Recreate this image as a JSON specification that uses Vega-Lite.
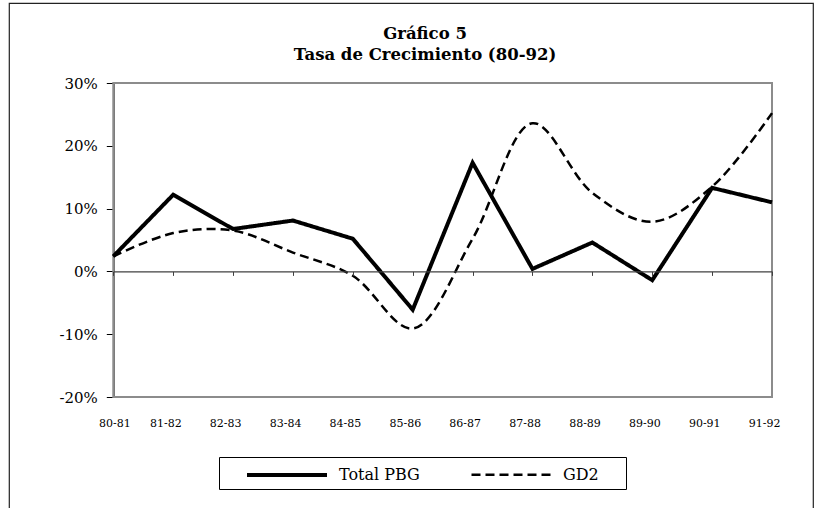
{
  "$schema": "https://vega.github.io/schema/vega-lite/v6.json",
  "width": 804,
  "height": 512,
  "autosize": "none",
  "padding": {"left": 9, "top": 3, "right": 4, "bottom": 0},
  "background": "white",
  "config": {
    "font": "DejaVu Serif",
    "view": {"stroke": "#222222", "strokeWidth": 1.2}
  },
  "title": {
    "text": ["Gráfico 5", "Tasa de Crecimiento (80-92)"],
    "font": "DejaVu Serif",
    "fontSize": 16.5,
    "fontWeight": "bold",
    "lineHeight": 21,
    "color": "black",
    "anchor": "middle",
    "baseline": "top",
    "offset": 0,
    "dx": 14,
    "dy": 60
  },
  "data": {
    "values": [
      {"period": "80-81", "series": "Total PBG", "value": 0.024},
      {"period": "81-82", "series": "Total PBG", "value": 0.122},
      {"period": "82-83", "series": "Total PBG", "value": 0.0675},
      {"period": "83-84", "series": "Total PBG", "value": 0.081},
      {"period": "84-85", "series": "Total PBG", "value": 0.052},
      {"period": "85-86", "series": "Total PBG", "value": -0.061},
      {"period": "86-87", "series": "Total PBG", "value": 0.173},
      {"period": "87-88", "series": "Total PBG", "value": 0.004},
      {"period": "88-89", "series": "Total PBG", "value": 0.046},
      {"period": "89-90", "series": "Total PBG", "value": -0.014},
      {"period": "90-91", "series": "Total PBG", "value": 0.133},
      {"period": "91-92", "series": "Total PBG", "value": 0.110},
      {"period": "80-81", "series": "GD2", "value": 0.024},
      {"period": "81-82", "series": "GD2", "value": 0.061},
      {"period": "82-83", "series": "GD2", "value": 0.065},
      {"period": "83-84", "series": "GD2", "value": 0.030},
      {"period": "84-85", "series": "GD2", "value": -0.007},
      {"period": "85-86", "series": "GD2", "value": -0.091},
      {"period": "86-87", "series": "GD2", "value": 0.052},
      {"period": "87-88", "series": "GD2", "value": 0.236},
      {"period": "88-89", "series": "GD2", "value": 0.125},
      {"period": "89-90", "series": "GD2", "value": 0.079},
      {"period": "90-91", "series": "GD2", "value": 0.135},
      {"period": "91-92", "series": "GD2", "value": 0.252}
    ]
  },
  "layer": [
    {
      "data": {"values": [{}]},
      "mark": {"type": "rect", "fill": null, "stroke": "#8c8c8c", "strokeWidth": 2},
      "encoding": {
        "x": {"datum": "80-81", "type": "ordinal"},
        "x2": {"datum": "91-92"},
        "y": {"datum": -0.2, "type": "quantitative"},
        "y2": {"datum": 0.3}
      }
    },
    {
      "transform": [{"filter": "datum.series === 'Total PBG'"}],
      "mark": {"type": "line", "color": "black", "interpolate": "linear", "strokeJoin": "miter", "clip": false},
      "encoding": {
        "x": {
          "field": "period",
          "type": "ordinal",
          "scale": {
            "type": "point",
            "domain": ["80-81","81-82","82-83","83-84","84-85","85-86","86-87","87-88","88-89","89-90","90-91","91-92"],
            "range": [104.3, 763],
            "padding": 0
          },
          "axis": {
            "title": null,
            "offset": -243.6,
            "domainColor": "#404040",
            "domainWidth": 1.2,
            "tickColor": "#404040",
            "tickSize": 4,
            "tickWidth": 1,
            "labelPadding": 148,
            "labelFontSize": 11,
            "labelColor": "black",
            "labelAngle": 0,
            "labelOffset": {"condition": {"test": "datum.value === '80-81'", "value": 17}, "value": 8}
          }
        },
        "y": {
          "field": "value",
          "type": "quantitative",
          "scale": {"domain": [-0.2, 0.3], "range": [394, 80], "nice": false, "zero": false},
          "axis": {
            "title": null,
            "offset": -104.3,
            "values": [-0.2, -0.1, 0, 0.1, 0.2, 0.3],
            "format": ".0%",
            "labelExpr": "replace(datum.label, '−', '-')",
            "grid": false,
            "domainColor": "black",
            "domainWidth": 1.5,
            "tickColor": "black",
            "tickSize": 7,
            "labelPadding": 9,
            "labelFontSize": 15,
            "labelColor": "black"
          }
        },
        "strokeDash": {
          "field": "series",
          "type": "nominal",
          "scale": {"domain": ["Total PBG", "GD2"], "range": [[1, 0], [9, 5]]},
          "legend": {
            "title": "\u00a0",
            "titleOrient": "right",
            "titlePadding": 21,
            "titleFontSize": 16,
            "orient": "none",
            "legendX": 210,
            "legendY": 454,
            "direction": "horizontal",
            "strokeColor": "black",
            "fillColor": "white",
            "padding": 6,
            "symbolType": "M-4,0H4",
            "symbolSize": 400,
            "symbolOffset": 50,
            "symbolStrokeColor": "black",
            "labelFontSize": 16,
            "labelColor": "black",
            "labelOffset": 40,
            "columnPadding": 30
          }
        },
        "strokeWidth": {
          "field": "series",
          "type": "nominal",
          "scale": {"domain": ["Total PBG", "GD2"], "range": [4, 2.5]},
          "legend": null
        }
      }
    },
    {
      "transform": [{"filter": "datum.series === 'GD2'"}],
      "mark": {"type": "line", "color": "black", "interpolate": "catmull-rom", "clip": false},
      "encoding": {
        "x": {"field": "period", "type": "ordinal"},
        "y": {"field": "value", "type": "quantitative"},
        "strokeDash": {"field": "series", "type": "nominal"},
        "strokeWidth": {"field": "series", "type": "nominal", "legend": null}
      }
    }
  ]
}
